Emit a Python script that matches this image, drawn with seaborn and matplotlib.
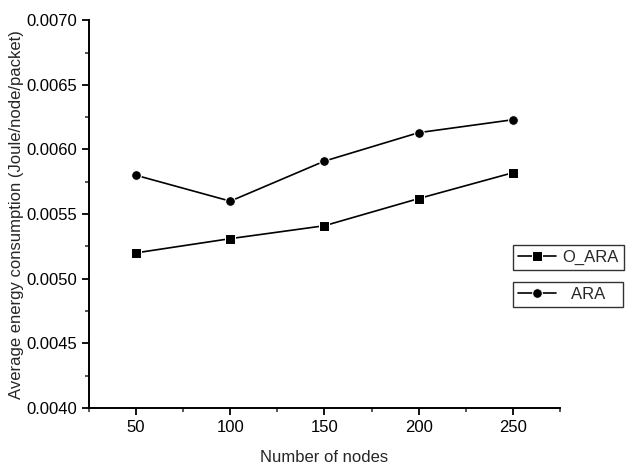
import matplotlib
matplotlib.use("Agg")
import matplotlib.pyplot as plt
from matplotlib.ticker import MultipleLocator, FormatStrFormatter
import pandas as pd
import seaborn as sns

nodes = [50, 100, 150, 200, 250]
o_ara = [0.00520, 0.00531, 0.00541, 0.00562, 0.00582]
ara = [0.00580, 0.00560, 0.00591, 0.00613, 0.00623]

df = pd.DataFrame({"nodes": nodes * 2,
                   "energy": o_ara + ara,
                   "series": ["O_ARA"] * 5 + ["ARA"] * 5})

sns.set_theme(style="ticks")
plt.rcParams["font.family"] = ["Liberation Sans", "DejaVu Sans"]

fig = plt.figure(figsize=(6.33, 4.70), dpi=100)
ax = fig.add_axes([0.1406, 0.132, 0.744, 0.825])

sns.lineplot(data=df, x="nodes", y="energy", style="series", markers={"O_ARA": "s", "ARA": "o"},
             dashes=False, color="black", linewidth=1.2, markersize=7, legend=False, ax=ax)

ax.set_xlim(25, 275)
ax.set_ylim(0.0040, 0.0070)
ax.xaxis.set_major_locator(MultipleLocator(50))
ax.xaxis.set_minor_locator(MultipleLocator(25))
ax.yaxis.set_major_locator(MultipleLocator(0.0005))
ax.yaxis.set_minor_locator(MultipleLocator(0.00025))
ax.yaxis.set_major_formatter(FormatStrFormatter("%.4f"))
ax.tick_params(which="major", length=5, width=1.3, labelsize=12, colors="black")
ax.tick_params(which="minor", length=3, width=1.1)
for s in ["left", "bottom"]:
    ax.spines[s].set_linewidth(1.4)
    ax.spines[s].set_color("black")
sns.despine(ax=ax)

ax.set_xlabel("Number of nodes", fontsize=12, labelpad=11)
ax.set_ylabel("Average energy consumption (Joule/node/packet)", fontsize=12, labelpad=2)

# two separate legend boxes, as in the original
lines = ax.get_lines()
kw = dict(frameon=True, fancybox=False, edgecolor="black", fontsize=12, handlelength=2.3,
          loc="upper left", bbox_transform=fig.transFigure, borderpad=0.3, borderaxespad=0)
leg1 = ax.legend([lines[0]], ["O_ARA"], bbox_to_anchor=(0.810, 0.479), handletextpad=0.4, **kw)
leg1.get_frame().set_linewidth(1.0)
ax.add_artist(leg1)
leg2 = ax.legend([lines[1]], ["ARA   "], bbox_to_anchor=(0.810, 0.400), handletextpad=0.9, **kw)
leg2.get_frame().set_linewidth(1.0)

fig.savefig("out.png", dpi=100, facecolor="white")
